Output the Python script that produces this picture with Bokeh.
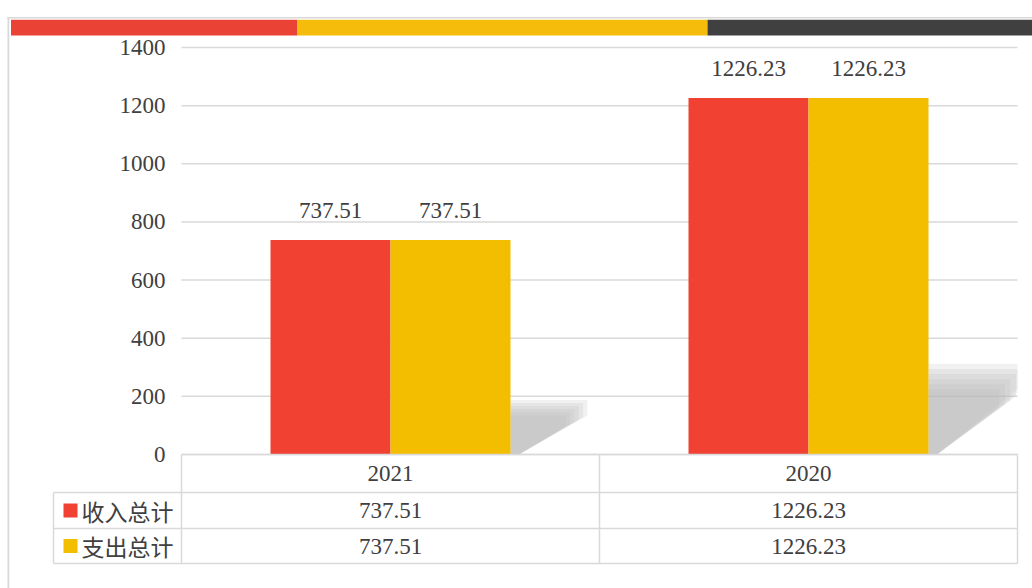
from bokeh.plotting import figure
from bokeh.models import Range1d, ColumnDataSource
from bokeh.core.properties import value
from bokeh.embed import file_html
from bokeh.resources import INLINE

# ---- data ----
categories = ["2021", "2020"]
income = [737.51, 1226.23]
expense = [737.51, 1226.23]
series_names = ["收入总计", "支出总计"]
y_ticks = [0, 200, 400, 600, 800, 1000, 1200, 1400]

# ---- style ----
RED = "#F04132"
YEL = "#F4BE00"
BAND_RED = "#EA4335"
BAND_YEL = "#F6BC0C"
BAND_DARK = "#404040"
GRID = "#d9d9d9"
TXT = "#404040"
NUM_FONT = "Liberation Serif"
CJK_FONT = "Noto Sans CJK SC"
FS = "23px"

W, H = 1032, 588
# plot area (page px): x 181..1017, value 0 at y=454, 1400 at y=47
PL, PR, P0, PTOP = 181.0, 1017.0, 454.0, 47.0
YMAX = 1400.0
NCAT = len(categories)
CW = (PR - PL) / NCAT          # px per category
YU = (P0 - PTOP) / YMAX        # px per value unit
BW = 120 / CW                  # bar width in category units


def dx(px):
    return (px - PL) / CW


def dy(py):
    return (P0 - py) / YU


p = figure(width=W, height=H, x_range=Range1d(dx(0), dx(W)), y_range=Range1d(dy(H), dy(0)),
           output_backend="svg", toolbar_location=None, min_border=0, title=None)
p.outline_line_color = None
p.axis.visible = False
p.grid.visible = False
p.background_fill_color = "white"
p.border_fill_color = "white"

xc = [i + 0.5 for i in range(NCAT)]
src = ColumnDataSource(dict(
    cat=categories, xc=xc, yrow=[dy(473)] * NCAT,
    xi=[x - BW / 2 for x in xc], xe=[x + BW / 2 for x in xc],
    inc=income, exp=expense,
    inc_txt=[f"{v:.2f}" for v in income], exp_txt=[f"{v:.2f}" for v in expense],
))

# outer frame lines and top colour band
p.quad(left=[dx(7)], right=[dx(8.8)], top=[dy(16.5)], bottom=[dy(H + 2)], fill_color=GRID, line_color=None)
p.quad(left=[dx(7)], right=[dx(W + 2)], top=[dy(16.5)], bottom=[dy(18)], fill_color=GRID, line_color=None)
p.quad(left=[dx(10.5), dx(297), dx(707)], right=[dx(297), dx(707), dx(W + 2)],
       top=[dy(19.3)] * 3, bottom=[dy(35)] * 3,
       fill_color=[BAND_RED, BAND_YEL, BAND_DARK], line_color=None)

# value gridlines and tick labels
p.segment(x0=[dx(PL)] * len(y_ticks), x1=[dx(PR)] * len(y_ticks), y0=y_ticks, y1=y_ticks,
          line_color=GRID, line_width=1.5)
p.text(x=[dx(165)] * len(y_ticks), y=y_ticks, text=[str(t) for t in y_ticks],
       text_align="right", text_baseline="middle", text_font=value(NUM_FONT),
       text_font_size=FS, text_color=TXT)

# soft shadows behind the right-hand bars (layered for a blurred look)
for s in (1.06, 1.0, 0.94, 0.88, 0.82, 0.76):
    sx, sy = [], []
    for x, v in zip(xc, expense):
        xr = x + BW
        h = v * 0.24 * s
        xw = min(xr + (0.1 + v * 0.0001) * s, NCAT)
        sx.append([xr, xr, xw, xw, xr + 0.02])
        sy.append([0, h, h, h * 0.72, 0])
    p.patches(sx, sy, fill_color="#b8b8b8", fill_alpha=0.2, line_color=None)

# bars
p.vbar(x="xi", top="inc", width=BW, source=src, fill_color=RED, line_color=None)
p.vbar(x="xe", top="exp", width=BW, source=src, fill_color=YEL, line_color=None)
for xcol, col, txt in (("xi", "inc", "inc_txt"), ("xe", "exp", "exp_txt")):
    p.text(x=xcol, y=col, text=txt, source=src, text_align="center", text_baseline="middle",
           y_offset=-30, text_font=value(NUM_FONT), text_font_size=FS, text_color=TXT)

# data table grid
row_lines = [492, 528, 563]
h_x0 = [dx(PL)] + [dx(53)] * len(row_lines)
h_y = [dy(454)] + [dy(y) for y in row_lines]
p.segment(x0=h_x0, x1=[dx(PR)] * len(h_x0), y0=h_y, y1=h_y, line_color=GRID, line_width=1.5)
col_px = [PL + i * CW for i in range(NCAT + 1)]
v_x = [dx(x) for x in col_px] + [dx(53)]
v_y0 = [dy(454)] * len(col_px) + [dy(492)]
p.segment(x0=v_x, x1=v_x, y0=v_y0, y1=[dy(563)] * len(v_x), line_color=GRID, line_width=1.5)

# category row
p.text(x="xc", y="yrow", text="cat", source=src, text_align="center",
       text_baseline="middle", text_font=value(NUM_FONT), text_font_size=FS, text_color=TXT)

# legend rows and values
row_centers = [510, 545.5]
for name, color, yc, series in zip(series_names, [RED, YEL], row_centers, [income, expense]):
    p.quad(left=[dx(63)], right=[dx(77)], top=[dy(yc - 7)], bottom=[dy(yc + 7)],
           fill_color=color, line_color=None)
    p.text(x=[dx(81)], y=[dy(yc)], text=[name], text_align="left", text_baseline="middle",
           text_font=value(CJK_FONT), text_font_size="23px", text_color=TXT)
    p.text(x=xc, y=[dy(yc)] * NCAT, text=[f"{v:.2f}" for v in series], text_align="center",
           text_baseline="middle", text_font=value(NUM_FONT), text_font_size=FS, text_color=TXT)

open("out.html", "w").write(file_html(p, INLINE))
